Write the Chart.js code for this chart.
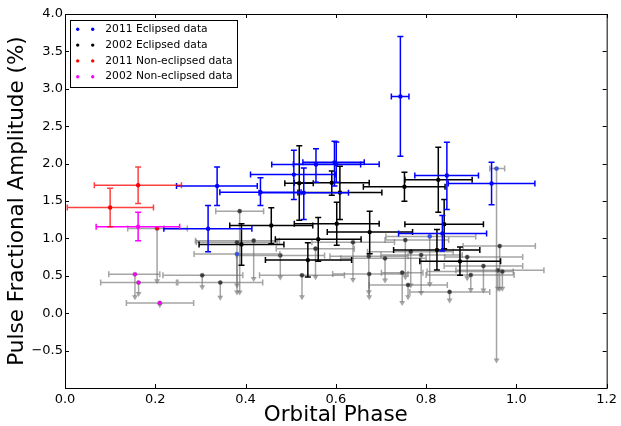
<!DOCTYPE html>
<html>
<head>
<meta charset="utf-8">
<script src="https://cdn.jsdelivr.net/npm/chart.js@4"></script>
<style>
  html, body { margin: 0; padding: 0; background: #fff; }
  #wrap { width: 621px; height: 426px; }
</style>
</head>
<body>
<div id="wrap"><canvas id="chart" width="621" height="426"></canvas></div>
<script>
// rows: [phase, amplitude, phaseLo, phaseHi, ampLo, ampHi]
const ecl2011 = [
  [0.337, 1.700, 0.247, 0.426, 1.440, 1.956],
  [0.433, 1.617, 0.343, 0.523, 1.440, 1.810],
  [0.529, 1.610, 0.430, 0.628, 1.253, 1.940],
  [0.507, 1.853, 0.411, 0.600, 1.520, 2.180],
  [0.556, 1.987, 0.458, 0.655, 1.750, 2.200],
  [0.597, 2.017, 0.527, 0.663, 1.700, 2.300],
  [0.601, 1.990, 0.506, 0.696, 1.750, 2.290],
  [0.743, 2.897, 0.723, 0.762, 2.097, 3.700],
  [0.846, 1.840, 0.775, 0.916, 1.387, 2.284],
  [0.945, 1.733, 0.849, 1.041, 1.450, 2.017],
  [0.836, 1.067, 0.739, 0.934, 0.830, 1.307],
  [0.317, 1.130, 0.219, 0.414, 0.820, 1.440],
];
const ecl2002 = [
  [0.519, 1.737, 0.487, 0.550, 1.244, 2.240],
  [0.591, 1.743, 0.508, 0.674, 1.577, 1.900],
  [0.609, 1.613, 0.516, 0.702, 1.253, 1.964],
  [0.752, 1.690, 0.661, 0.842, 1.497, 1.884],
  [0.827, 1.783, 0.753, 0.902, 1.350, 2.217],
  [0.602, 1.196, 0.508, 0.696, 0.907, 1.484],
  [0.457, 1.173, 0.365, 0.549, 0.930, 1.410],
  [0.391, 0.920, 0.297, 0.485, 0.640, 1.196],
  [0.561, 0.990, 0.466, 0.656, 0.693, 1.280],
  [0.538, 0.710, 0.444, 0.635, 0.484, 0.943],
  [0.675, 1.084, 0.581, 0.770, 0.796, 1.364],
  [0.840, 1.190, 0.753, 0.927, 0.860, 1.520],
  [0.824, 0.844, 0.728, 0.919, 0.578, 1.120],
  [0.875, 0.693, 0.786, 0.965, 0.507, 0.884],
];
const nonEcl2011 = [
  [0.162, 1.710, 0.065, 0.258, 1.467, 1.956],
  [0.100, 1.413, 0.005, 0.196, 1.156, 1.670],
];
const nonEcl2002 = [
  [0.162, 1.156, 0.069, 0.254, 0.970, 1.350],
];

// upper limits: [phase, amplitude, phaseLo, phaseHi, arrowTip]
const ecl2011Lim = [
  [0.381, 0.790, 0.286, 0.476, 0.250],
  [0.808, 1.027, 0.711, 0.910, 0.360],
  [0.956, 1.933, 0.941, 0.974, -0.660],
];
const ecl2002Lim = [
  [0.387, 1.364, 0.334, 0.440, 0.250],
  [0.418, 0.970, 0.289, 0.475, 0.430],
  [0.381, 0.947, 0.291, 0.470, 0.342],
  [0.304, 0.507, 0.217, 0.394, 0.320],
  [0.344, 0.410, 0.250, 0.438, 0.180],
  [0.477, 0.773, 0.380, 0.575, 0.450],
  [0.525, 0.507, 0.431, 0.619, 0.187],
  [0.555, 0.863, 0.468, 0.641, 0.453],
  [0.638, 0.947, 0.547, 0.730, 0.417],
  [0.673, 0.760, 0.587, 0.760, 0.253],
  [0.674, 0.524, 0.593, 0.760, 0.187],
  [0.709, 0.733, 0.611, 0.800, 0.410],
  [0.747, 0.542, 0.701, 0.793, 0.110],
  [0.754, 0.977, 0.709, 0.850, 0.453],
  [0.766, 0.822, 0.670, 0.860, 0.343],
  [0.760, 0.377, 0.674, 0.847, 0.187],
  [0.789, 0.778, 0.700, 0.880, 0.244],
  [0.891, 0.751, 0.841, 1.014, 0.440],
  [0.963, 0.898, 0.882, 1.042, 0.297],
  [0.927, 0.631, 0.840, 1.014, 0.276],
  [0.959, 0.573, 0.866, 1.061, 0.300],
  [0.969, 0.556, 0.802, 0.993, 0.300],
  [0.899, 0.511, 0.800, 0.995, 0.284],
  [0.852, 0.284, 0.764, 0.941, 0.143],
];
const nonEcl2011Lim = [
  [0.204, 1.133, 0.139, 0.271, 0.400],
];
const nonEcl2002Lim = [
  [0.155, 0.520, 0.097, 0.210, 0.187],
  [0.163, 0.410, 0.079, 0.247, 0.230],
  [0.210, 0.137, 0.136, 0.285, 0.080],
];

const xTicks = [0.0, 0.2, 0.4, 0.6, 0.8, 1.0, 1.2];
const yTicks = [-1.0, -0.5, 0.0, 0.5, 1.0, 1.5, 2.0, 2.5, 3.0, 3.5, 4.0];

const legendLabels = ["2011 Eclipsed data", "2002 Eclipsed data", "2011 Non-eclipsed data", "2002 Non-eclipsed data"];
const legendColors = ["#0000ff", "#000000", "#ff0000", "#ff00ff"];

const GREY = "rgba(110,110,110,0.62)";

const detPoints = (rows) => rows.map((r) => ({ x: r[0], y: r[1], xlo: r[2], xhi: r[3], ylo: r[4], yhi: r[5] }));
const limPoints = (rows) => rows.map((r) => ({ x: r[0], y: r[1], xlo: r[2], xhi: r[3], ylo: r[4], lim: true }));

function detSet(rows, color, bar) {
  return {
    data: detPoints(rows), barColor: bar || color,
    pointRadius: 2.2, pointBackgroundColor: color, pointBorderWidth: 0,
  };
}
function limSet(rows, color) {
  return {
    data: limPoints(rows), barColor: GREY,
    pointRadius: 2.1, pointBackgroundColor: color,
    pointBorderColor: "rgba(90,90,90,0.7)", pointBorderWidth: 0.6,
  };
}

const fmt = (v) => (Math.abs(v) < 1e-9 ? "0.0" : v.toFixed(1).replace("-", "\u2212"));

const errorBars = {
  id: "errorBars",
  beforeDatasetDraw(chart, args) {
    const ds = chart.data.datasets[args.index];
    const xs = chart.scales.x, ys = chart.scales.y;
    const ctx = chart.ctx;
    ctx.save();
    ctx.strokeStyle = ds.barColor;
    ctx.fillStyle = ds.barColor;
    ctx.lineWidth = 1.5;
    ds.data.forEach((d) => {
      const px = xs.getPixelForValue(d.x), py = ys.getPixelForValue(d.y);
      const x0 = xs.getPixelForValue(d.xlo), x1 = xs.getPixelForValue(d.xhi);
      ctx.beginPath();
      ctx.moveTo(x0, py); ctx.lineTo(x1, py);
      ctx.moveTo(x0, py - 3); ctx.lineTo(x0, py + 3);
      ctx.moveTo(x1, py - 3); ctx.lineTo(x1, py + 3);
      if (d.lim) {
        const yt = ys.getPixelForValue(d.ylo);
        ctx.moveTo(px, py); ctx.lineTo(px, yt - 3);
        ctx.stroke();
        ctx.beginPath();
        ctx.moveTo(px - 3, yt - 4); ctx.lineTo(px + 3, yt - 4); ctx.lineTo(px, yt + 1);
        ctx.closePath();
        ctx.fill();
      } else {
        const y0 = ys.getPixelForValue(d.ylo), y1 = ys.getPixelForValue(d.yhi);
        ctx.moveTo(px, y0); ctx.lineTo(px, y1);
        ctx.moveTo(px - 3, y0); ctx.lineTo(px + 3, y0);
        ctx.moveTo(px - 3, y1); ctx.lineTo(px + 3, y1);
        ctx.stroke();
      }
    });
    ctx.restore();
  },
};

const frame = {
  id: "frame",
  afterDraw(chart) {
    const { ctx, chartArea: a } = chart;
    const xs = chart.scales.x, ys = chart.scales.y;
    ctx.save();
    ctx.strokeStyle = "#000";
    ctx.lineWidth = 1;
    ctx.beginPath();
    xTicks.forEach((v) => {
      const p = Math.round(xs.getPixelForValue(v)) + 0.5;
      ctx.moveTo(p, a.bottom); ctx.lineTo(p, a.bottom - 4);
      ctx.moveTo(p, a.top); ctx.lineTo(p, a.top + 4);
    });
    yTicks.forEach((v) => {
      const p = Math.round(ys.getPixelForValue(v)) + 0.5;
      ctx.moveTo(a.left, p); ctx.lineTo(a.left + 4, p);
      ctx.moveTo(a.right, p); ctx.lineTo(a.right - 4, p);
    });
    ctx.stroke();
    ctx.strokeRect(a.left + 0.5, a.top + 0.5, a.right - a.left, a.bottom - a.top);

    // legend box, two markers per entry
    ctx.fillStyle = "#fff";
    ctx.fillRect(70, 20, 167, 67);
    ctx.strokeRect(70.5, 20.5, 167, 67);
    ctx.font = "10.7px 'DejaVu Sans'";
    ctx.textBaseline = "middle";
    legendLabels.forEach((lab, i) => {
      const y = 29.3 + i * 15.8;
      ctx.fillStyle = legendColors[i];
      [77.7, 92.7].forEach((x) => {
        ctx.beginPath(); ctx.arc(x, y, 1.7, 0, Math.PI * 2); ctx.fill();
      });
      ctx.fillStyle = "#000";
      ctx.fillText(lab, 105.3, y);
    });
    ctx.restore();
  },
};

Chart.defaults.font.family = "'DejaVu Sans', sans-serif";
Chart.defaults.color = "#000";

new Chart(document.getElementById("chart"), {
  type: "scatter",
  data: {
    datasets: [
      detSet(nonEcl2011, "#ff0000", "rgba(255,0,0,0.75)"),
      detSet(nonEcl2002, "#ff00ff"),
      detSet(ecl2011, "#0000ff"),
      detSet(ecl2002, "#000000"),
      limSet(ecl2011Lim, "#3050ff"),
      limSet(nonEcl2011Lim, "#ff0000"),
      limSet(nonEcl2002Lim, "#ff00ff"),
      limSet(ecl2002Lim, "#3a3a3a"),
    ],
  },
  options: {
    responsive: false, animation: false, devicePixelRatio: 1,
    layout: { padding: { top: 14, right: 13, left: 0, bottom: 0 } },
    plugins: { legend: { display: false }, tooltip: { enabled: false } },
    scales: {
      x: {
        type: "linear", min: 0, max: 1.2,
        afterBuildTicks: (s) => { s.ticks = xTicks.map((v) => ({ value: v })); },
        afterFit: (s) => { s.height = 38; },
        ticks: { callback: (v) => fmt(v), padding: 4, maxRotation: 0, autoSkip: false, font: { size: 13 } },
        grid: { display: false, drawTicks: false },
        border: { display: false },
        title: { display: true, text: "Orbital Phase", font: { size: 21.5, lineHeight: 1 }, padding: { top: 0, bottom: 0 } },
      },
      y: {
        type: "linear", min: -1, max: 4,
        afterBuildTicks: (s) => { s.ticks = yTicks.map((v) => ({ value: v })); },
        afterFit: (s) => { s.width = 65; },
        ticks: { callback: (v) => (v <= -0.999 ? "" : fmt(v)), padding: 2, font: { size: 13 } },
        grid: { display: false, drawTicks: false },
        border: { display: false },
        title: { display: true, text: "Pulse Fractional Amplitude (%)", font: { size: 21.5, lineHeight: 1 }, padding: { top: 6.5, bottom: 0 } },
      },
    },
  },
  plugins: [errorBars, frame],
});
</script>
</body>
</html>
